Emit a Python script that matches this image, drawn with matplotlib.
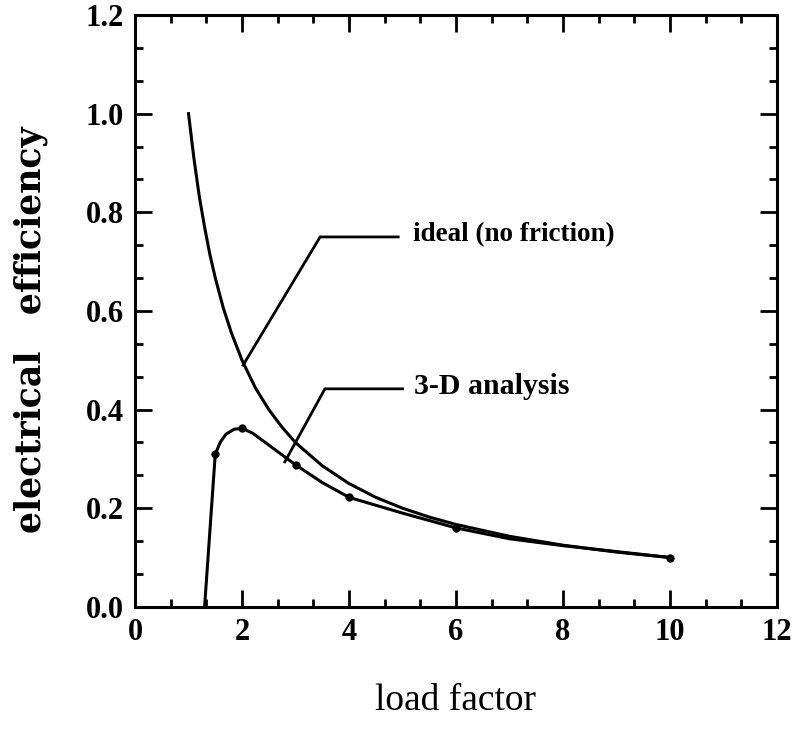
import matplotlib
matplotlib.use("Agg")
import matplotlib.pyplot as plt
from matplotlib.ticker import MultipleLocator

# ideal (no friction) curve
ideal_x = [1.0, 1.1, 1.2, 1.3, 1.4, 1.5, 1.65, 1.8, 2.0, 2.25, 2.5, 2.75, 3.0, 3.5, 4.0, 4.5, 5.0,
           5.5, 6.0, 7.0, 8.0, 9.0, 10.0]
ideal_y = [1.0, 0.91, 0.833, 0.77, 0.714, 0.667, 0.606, 0.556, 0.50, 0.444, 0.40, 0.364, 0.333,
           0.286, 0.25, 0.222, 0.20, 0.182, 0.167, 0.143, 0.125, 0.111, 0.10]

# 3-D analysis curve (line path) and its marked points
ana_x = [1.3, 1.5, 1.6, 1.7, 1.85, 2.0, 2.2, 2.5, 3.0, 3.5, 4.0, 5.0, 6.0, 7.0, 8.0, 9.0, 10.0]
ana_y = [0.0, 0.31, 0.335, 0.35, 0.36, 0.362, 0.352, 0.328, 0.288, 0.252, 0.222, 0.19, 0.16,
         0.138, 0.124, 0.112, 0.10]
pts_x = [1.5, 2.0, 3.0, 4.0, 6.0, 10.0]
pts_y = [0.31, 0.362, 0.288, 0.222, 0.16, 0.10]

xticks = [0, 2, 4, 6, 8, 10, 12]
yticks = [0.0, 0.2, 0.4, 0.6, 0.8, 1.0, 1.2]

plt.rcParams['font.family'] = ['Liberation Serif', 'DejaVu Serif']

fig = plt.figure(figsize=(7.92, 7.32), dpi=100)
ax = fig.add_axes([0.1705, 0.171, 0.8105, 0.8085])

ax.plot(ideal_x, ideal_y, color='black', lw=2.2)
ax.plot(ana_x, ana_y, color='black', lw=2.2)
ax.plot(pts_x, pts_y, 'o', color='black', ms=5)

# annotation leaders
ax.plot([2.02, 3.46, 4.92], [0.49, 0.75, 0.75], color='black', lw=2.0)
ax.plot([2.8, 3.55, 5.0], [0.294, 0.442, 0.442], color='black', lw=2.0)
ax.text(5.2, 0.755, 'ideal (no friction)', fontsize=19.5, fontweight='bold', va='center', ha='left')
ax.text(5.22, 0.447, '3-D analysis', fontsize=21.5, fontweight='bold', va='center', ha='left')

ax.set_xlim(0, 12)
ax.set_ylim(0, 1.2)
ax.set_xticks(xticks)
ax.set_yticks(yticks)
ax.set_xticklabels([str(t) for t in xticks])
ax.set_yticklabels(['%.1f' % t for t in yticks])
ax.xaxis.set_minor_locator(MultipleLocator(2/3))
ax.yaxis.set_minor_locator(MultipleLocator(0.2/3))
ax.tick_params(which='both', direction='in', top=True, right=True, width=2)
ax.tick_params(which='major', length=12, labelsize=22, pad=8)
ax.tick_params(which='minor', length=6)
for lbl in ax.get_xticklabels() + ax.get_yticklabels():
    lbl.set_fontweight('bold')
for s in ax.spines.values():
    s.set_linewidth(2.2)

ax.set_xlabel('load factor', fontsize=27, labelpad=26)
ax.set_ylabel('electrical   efficiency', fontsize=25, fontweight='bold',
              family=['DejaVu Serif'], va='center')
ax.yaxis.set_label_coords(-0.163, 0.468)

fig.savefig('out.png', dpi=100)
